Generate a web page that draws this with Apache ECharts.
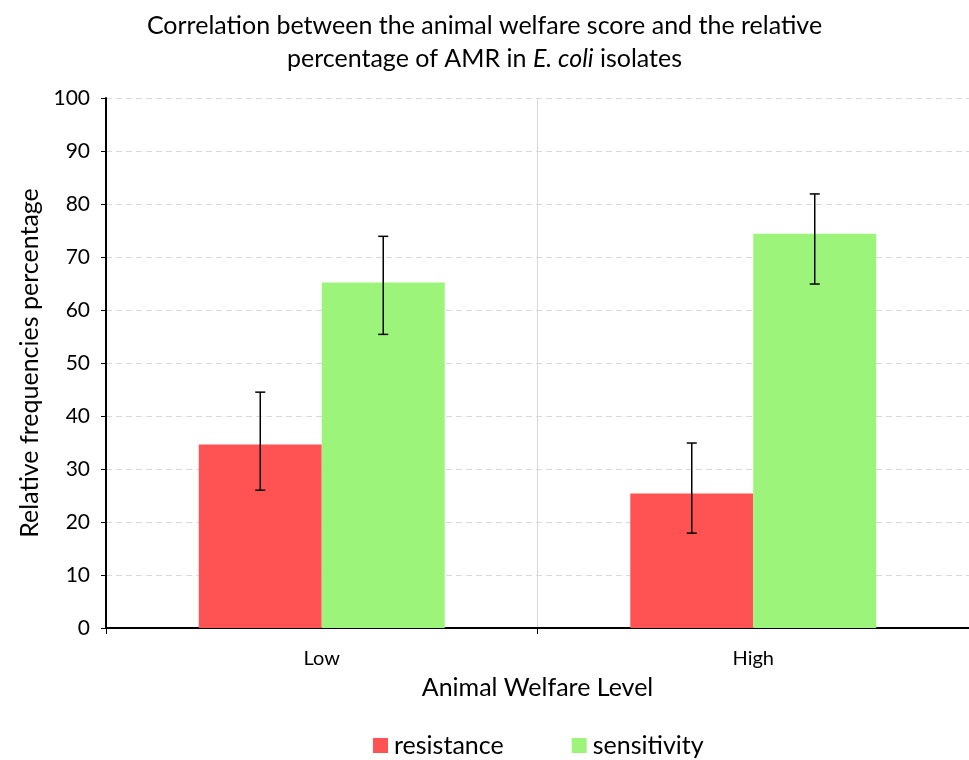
<!DOCTYPE html>
<html>
<head>
<meta charset="utf-8">
<script src="https://cdn.jsdelivr.net/npm/echarts@6.0.0/dist/echarts.min.js"></script>
<style>
  html, body { margin: 0; padding: 0; background: #fff; }
  #main { width: 969px; height: 760px; }
</style>
</head>
<body>
<div id="main"></div>
<script>
var categories = ['Low', 'High'];
var seriesNames = ['resistance', 'sensitivity'];
var resistance = [34.6, 25.4];
var sensitivity = [65.2, 74.4];
// error bar ends [low, high]
var resistanceErr = [[26.0, 44.5], [17.9, 34.9]];
var sensitivityErr = [[55.4, 73.9], [64.9, 81.9]];
var yTicks = [0, 10, 20, 30, 40, 50, 60, 70, 80, 90, 100];

var colors = ['#ff5353', '#9cf57a'];
var barPct = 0.285;
var fontFam = 'Lato, "Open Sans", sans-serif';

function errSeries(errs, idx) {
    return {
        type: 'custom',
        z: 10,
        data: errs.map(function (e, i) { return [i, e[0], e[1]]; }),
        renderItem: function (params, api) {
            var cat = api.value(0);
            var lo = api.coord([cat, api.value(1)]);
            var hi = api.coord([cat, api.value(2)]);
            var band = api.size([1, 0])[0];
            var x = lo[0] + (idx - 0.5) * band * barPct;
            var cap = 5;
            var st = { stroke: '#000', lineWidth: 1.5 };
            return {
                type: 'group',
                children: [
                    { type: 'line', shape: { x1: x, y1: lo[1], x2: x, y2: hi[1] }, style: st },
                    { type: 'line', shape: { x1: x - cap, y1: lo[1], x2: x + cap, y2: lo[1] }, style: st },
                    { type: 'line', shape: { x1: x - cap, y1: hi[1], x2: x + cap, y2: hi[1] }, style: st }
                ]
            };
        },
        silent: true
    };
}

var mychart = echarts.init(document.getElementById('main'));
var option = {
    animation: false,
    color: colors,
    title: {
        text: 'Correlation between the animal welfare score and the relative\npercentage of AMR in {i|E. coli} isolates',
        left: 'center',
        top: 4,
        textStyle: {
            fontFamily: fontFam,
            fontSize: 25,
            fontWeight: 'normal',
            color: '#000',
            lineHeight: 33,
            rich: {
                i: { fontFamily: fontFam, fontSize: 25, fontStyle: 'italic', color: '#000' }
            }
        }
    },
    legend: {
        data: seriesNames,
        top: 728,
        left: 368,
        icon: 'rect',
        itemWidth: 15,
        itemHeight: 15,
        itemGap: 68,
        textStyle: { fontFamily: fontFam, fontSize: 25, color: '#000', padding: [0, 0, 0, 1] }
    },
    grid: {
        left: 106,
        right: 0,
        top: 98,
        bottom: 132
    },
    xAxis: {
        type: 'category',
        data: categories,
        name: 'Animal Welfare Level',
        nameLocation: 'middle',
        nameGap: 47,
        nameTextStyle: { fontFamily: fontFam, fontSize: 25, color: '#000' },
        axisLine: { lineStyle: { color: '#000', width: 2 } },
        axisTick: { show: true, length: 6, lineStyle: { color: '#000' } },
        axisLabel: { fontFamily: fontFam, fontSize: 20, color: '#000', margin: 21 },
        splitLine: { show: true, lineStyle: { color: '#d9d9d9', width: 1 } }
    },
    yAxis: {
        type: 'value',
        min: 0,
        max: 100,
        interval: 10,
        name: 'Relative frequencies percentage',
        nameLocation: 'middle',
        nameGap: 64,
        nameTextStyle: { fontFamily: fontFam, fontSize: 25, color: '#000' },
        axisLine: { show: true, lineStyle: { color: '#000', width: 2 } },
        axisTick: { show: true, length: 5, lineStyle: { color: '#000' } },
        axisLabel: {
            fontFamily: fontFam, fontSize: 21, color: '#000', margin: 16,
            formatter: function (v) { return yTicks.indexOf(v) >= 0 ? String(v) : ''; }
        },
        splitLine: { show: true, lineStyle: { color: '#d9d9d9', type: [6, 4], width: 1 } }
    },
    series: [
        {
            name: 'resistance',
            type: 'bar',
            data: resistance,
            barWidth: (barPct * 100) + '%',
            barGap: '0%'
        },
        {
            name: 'sensitivity',
            type: 'bar',
            data: sensitivity,
            barWidth: (barPct * 100) + '%',
            barGap: '0%'
        },
        errSeries(resistanceErr, 0),
        errSeries(sensitivityErr, 1)
    ]
};
mychart.setOption(option);
</script>
</body>
</html>
